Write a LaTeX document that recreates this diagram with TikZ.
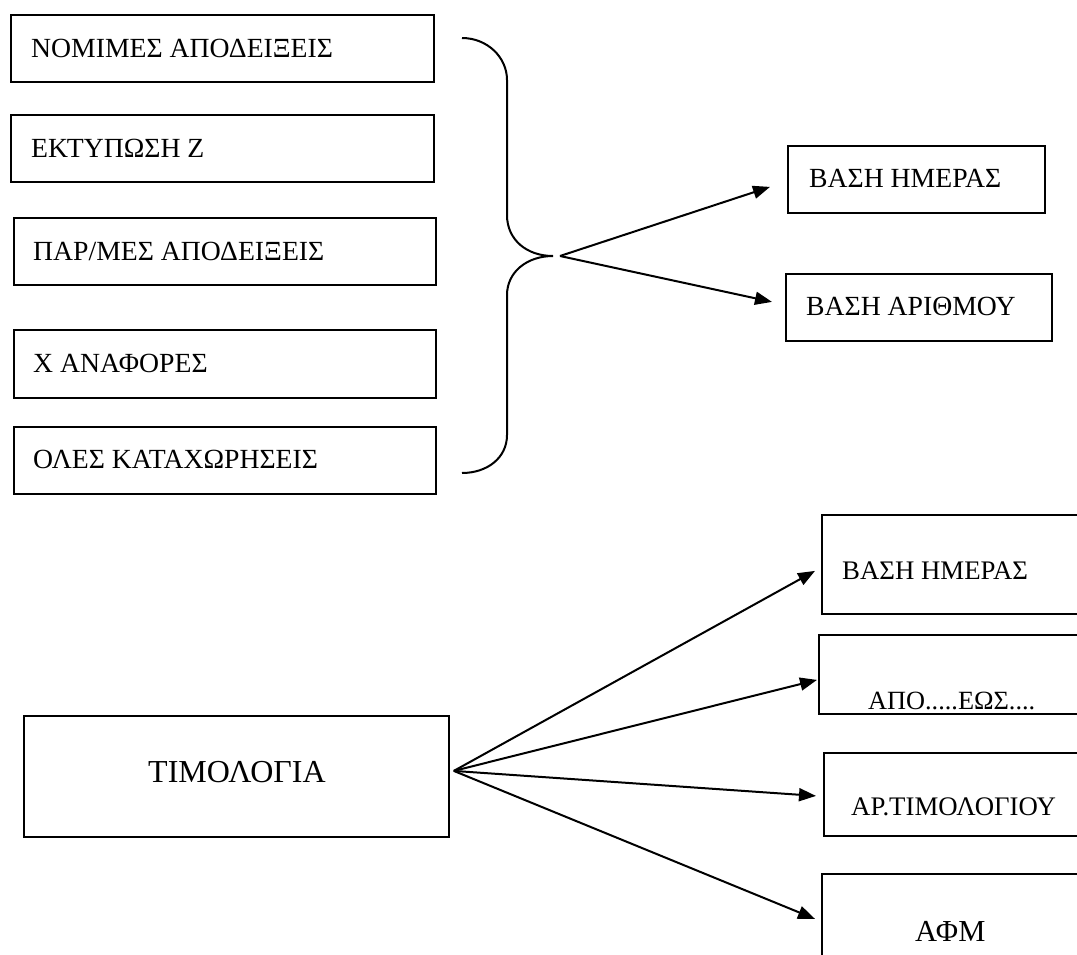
\documentclass[tikz,border=0pt]{standalone}
\usepackage{fontspec}
\setmainfont{Liberation Serif}
\usetikzlibrary{arrows.meta,calc}
\begin{document}
\begin{tikzpicture}[x=1pt,y=-1pt,
  box/.style 2 args={draw, line width=1.8pt, inner sep=0pt, anchor=north west,
    minimum width=#1pt, minimum height=#2pt},
  lbl/.style={anchor=base west, inner sep=0pt, font=\fontsize{#1}{#1}\selectfont},
  lbl/.default=27.7,
  conn/.style={line width=2pt, -{Triangle[length=17pt,width=13pt]}},
  bracepath/.style={line width=2pt}]
\useasboundingbox (0,0) rectangle (1077,954);
\clip (0,0) rectangle (1077,954);
% left list
\node[box={423}{67}] (L1) at (10,14) {};
\node[box={423}{67}] (L2) at (10,114) {};
\node[box={422}{67}] (L3) at (13,217) {};
\node[box={422}{68}] (L4) at (13,329) {};
\node[box={422}{67}] (L5) at (13,426) {};
\node[lbl] (tL1) at (31,57) {ΝΟΜΙΜΕΣ ΑΠΟΔΕΙΞΕΙΣ};
\node[lbl] (tL2) at (31,157) {ΕΚΤΥΠΩΣΗ Ζ};
\node[lbl] (tL3) at (33,260) {ΠΑΡ/ΜΕΣ ΑΠΟΔΕΙΞΕΙΣ};
\node[lbl] (tL4) at (33,372) {Χ ΑΝΑΦΟΡΕΣ};
\node[lbl] (tL5) at (33,468) {ΟΛΕΣ ΚΑΤΑΧΩΡΗΣΕΙΣ};
% top right
\node[box={257}{67}] (R1) at (787,145) {};
\node[box={266}{67}] (R2) at (785,273) {};
\node[lbl] (tR1) at (809,187) {ΒΑΣΗ ΗΜΕΡΑΣ};
\node[lbl] (tR2) at (806,315) {ΒΑΣΗ ΑΡΙΘΜΟΥ};
% brace
\coordinate (bt) at (462,38);
\coordinate (bb) at (462,473);
\coordinate (fork) at (553,256);
\draw[bracepath] (bt) .. controls (487,38) and (507,57) .. (507,80)
  -- (507,215) .. controls (507,240) and (527,256) .. (fork)
  .. controls (527,256) and (507,272) .. (507,295)
  -- (507,435) .. controls (507,458) and (487,473) .. (bb);
\draw[conn] ($(fork)+(7,0)$) -- ($(R1.west)+(-17,7.5)$);
\draw[conn] ($(fork)+(7,0)$) -- ($(R2.west)+(-13,-5.5)$);
% bottom
\node[box={425}{121}] (T) at (23,715) {};
\node[lbl=32] (tT) at (148,782) {ΤΙΜΟΛΟΓΙΑ};
\node[box={270}{99}] (B1) at (821,514) {};
\node[box={273}{79}] (B2) at (818,634) {};
\node[box={268}{83}] (B3) at (823,752) {};
\node[box={270}{110}] (B4) at (821,873) {};
\node[lbl=26.8] (tB1) at (842,579) {ΒΑΣΗ ΗΜΕΡΑΣ};
\node[lbl=26.3] (tB2) at (868,709) {ΑΠΟ.....ΕΩΣ....};
\node[lbl=26.8] (tB3) at (851,815) {ΑΡ.ΤΙΜΟΛΟΓΙΟΥ};
\node[lbl=30.5] (tB4) at (915,941) {ΑΦΜ};
\coordinate (src) at ($(T.east)+(4,-5.5)$);
\draw[conn] (src) -- ($(B1.west)+(-6,6.5)$);
\draw[conn] (src) -- ($(B2.west)+(-1,5.5)$);
\draw[conn] (src) -- ($(B3.west)+(-7,1.5)$);
\draw[conn] (src) -- ($(B4.west)+(-6,-10)$);
\end{tikzpicture}
\end{document}
